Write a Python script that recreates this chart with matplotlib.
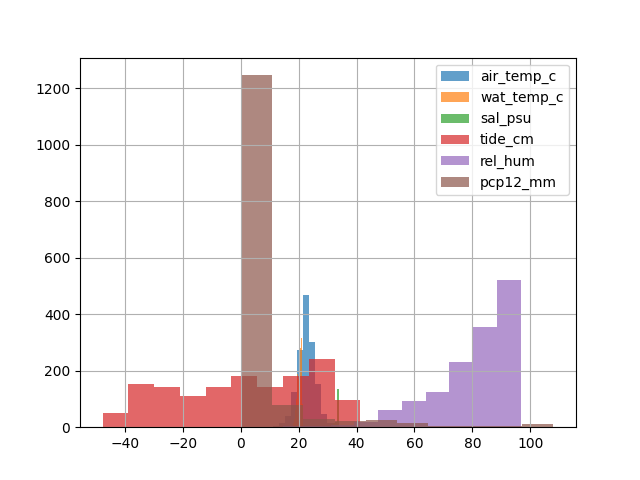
import numpy as np
from matplotlib import pyplot as plt

# column names in plotting order
columns = ["air_temp_c", "wat_temp_c", "sal_psu", "tide_cm", "rel_hum", "pcp12_mm"]

# (min, max) of each column -> 10 equal bins each
ranges = {
    "air_temp_c": (11.25, 32.0),
    "wat_temp_c": (17.9, 21.4),
    "sal_psu": (27.2, 34.0),
    "tide_cm": (-47.7, 41.3),
    "rel_hum": (14.7, 96.7),
    "pcp12_mm": (0.0, 108.0),
}

# counts per bin
air_temp_c = [5, 15, 40, 124, 274, 469, 302, 152, 45, 14]
wat_temp_c = [15, 30, 60, 100, 188, 170, 200, 280, 316, 81]
sal_psu = [2, 1, 3, 2, 5, 6, 8, 15, 20, 135]
tide_cm = [50, 153, 142, 110, 142, 181, 143, 181, 241, 96]
rel_hum = [3, 5, 9, 20, 60, 92, 124, 232, 355, 522]
pcp12_mm = [1247, 78, 28, 22, 26, 14, 5, 5, 5, 10]

counts = {
    "air_temp_c": air_temp_c,
    "wat_temp_c": wat_temp_c,
    "sal_psu": sal_psu,
    "tide_cm": tide_cm,
    "rel_hum": rel_hum,
    "pcp12_mm": pcp12_mm,
}

fig, ax = plt.subplots(figsize=(6.4, 4.8), dpi=100)

for col in columns:
    lo, hi = ranges[col]
    edges = np.linspace(lo, hi, len(counts[col]) + 1)
    ax.hist(edges[:-1], bins=edges, weights=counts[col], alpha=0.7, label=col)

ax.grid(True)
ax.legend(loc="upper right")

plt.savefig("out.png")
